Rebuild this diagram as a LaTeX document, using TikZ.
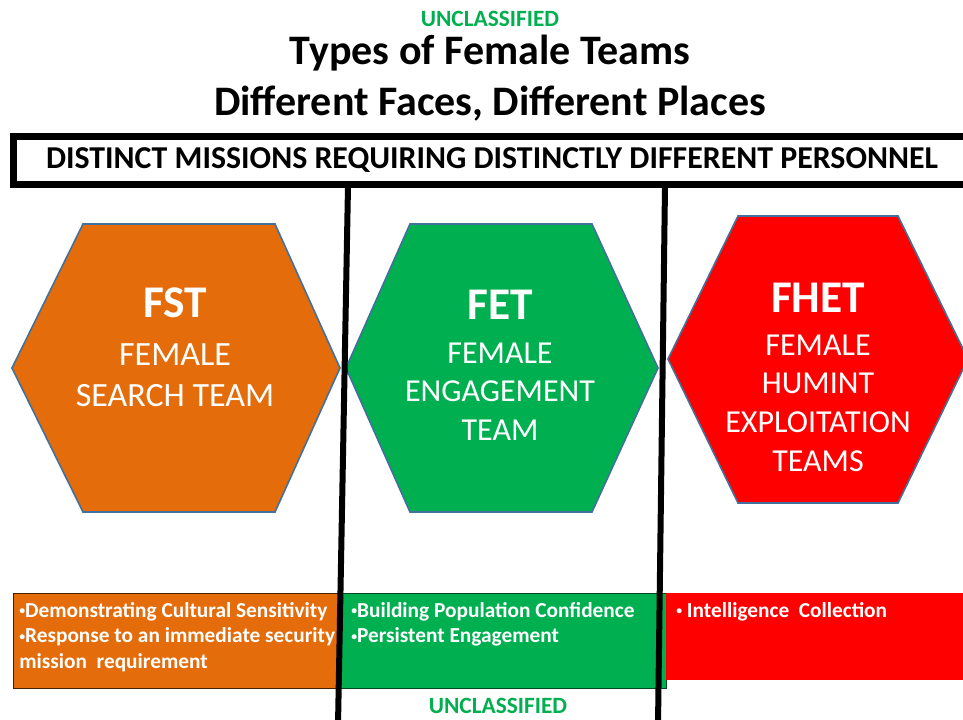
\documentclass[tikz,border=0pt]{standalone}
\usepackage{fontspec}
\setmainfont{Carlito}
\definecolor{fstorange}{HTML}{E46C0A}
\definecolor{fetgreen}{HTML}{00B050}
\definecolor{fhetred}{HTML}{FF0000}
\definecolor{hexline}{HTML}{41719C}
\newcommand{\smbul}{\raisebox{0.12em}{\scalebox{0.55}{•}}}
\begin{document}
\begin{tikzpicture}[x=0.75pt,y=-0.75pt,
  classif/.style={text=fetgreen,font=\bfseries\fontsize{17.5}{20}\selectfont,inner sep=0},
  titletext/.style={font=\bfseries\fontsize{31.5}{38}\selectfont,align=center,inner sep=0},
  hexshape/.style={draw=hexline,line width=1.2pt},
  hexabbr/.style={text=white,inner sep=0,font=\bfseries\fontsize{34}{40}\selectfont},
  hexname/.style={text=white,align=center,inner sep=0,font=\fontsize{24}{29}\selectfont},
  boxtext/.style={text=white,align=left,anchor=north west,inner sep=0,font=\bfseries\fontsize{16}{19.2}\selectfont},
  divider/.style={line width=4.5pt,black}]
\useasboundingbox (0,0) rectangle (963,719);
\fill[white] (0,0) rectangle (963,719);
% headings
\node[classif] (topclass) at (490,19) {UNCLASSIFIED};
\node[titletext] (title) at (490,78) {Types of Female Teams\\Different Faces, Different Places};
% banner
\draw[line width=5.25pt] (13,136) rectangle (1000,184);
\node[font=\bfseries\fontsize{23.9}{28}\selectfont,inner sep=0] (banner) at (492,160) {DISTINCT MISSIONS REQUIRING DISTINCTLY DIFFERENT PERSONNEL};
% hexagons
\draw[hexshape,fill=fstorange] (12,368) -- (83,224) -- (275,224) -- (340,368) -- (275,512) -- (83,512) -- cycle;
\draw[hexshape,fill=fetgreen] (346,368) -- (410,224) -- (592,224) -- (658,368) -- (592,512) -- (410,512) -- cycle;
\draw[hexshape,fill=fhetred] (668,359) -- (738,216) -- (898,216) -- (968,359) -- (898,503) -- (738,503) -- cycle;
\node[hexabbr] (fst) at (175,303) {FST};
\node[hexname,font=\fontsize{25.5}{31}\selectfont] (fstname) at (175,375) {FEMALE\\SEARCH TEAM};
\node[hexabbr] (fet) at (500,305) {FET};
\node[hexname] (fetname) at (500,391.5) {FEMALE\\ENGAGEMENT\\TEAM};
\node[hexabbr] (fhet) at (818,298) {FHET};
\node[hexname] (fhetname) at (818,403) {FEMALE\\HUMINT\\EXPLOITATION\\TEAMS};
% bottom boxes
\draw[fill=fstorange,draw=black!70!fstorange,line width=0.75pt] (13,593) rectangle (340,688);
\draw[fill=fetgreen,draw=black!60!fetgreen,line width=0.75pt] (340,593) rectangle (666,688);
\fill[fhetred] (666,593) rectangle (1000,680);
\node[boxtext] (fsttasks) at (19,602) {\smbul Demonstrating Cultural Sensitivity\\\smbul Response to an immediate security\\mission~ requirement};
\node[boxtext] (fettasks) at (351,602) {\smbul Building Population Confidence\\\smbul Persistent Engagement};
\node[boxtext] (fhettasks) at (676,602) {\smbul{} Intelligence~ Collection};
\node[classif] (botclass) at (498,706) {UNCLASSIFIED};
% dividers
\coordinate (d1top) at (348,186);
\coordinate (d1bot) at (338,725);
\coordinate (d2top) at (665,186);
\coordinate (d2bot) at (658,725);
\draw[divider] (d1top) -- (d1bot);
\draw[divider] (d2top) -- (d2bot);
\end{tikzpicture}
\end{document}
